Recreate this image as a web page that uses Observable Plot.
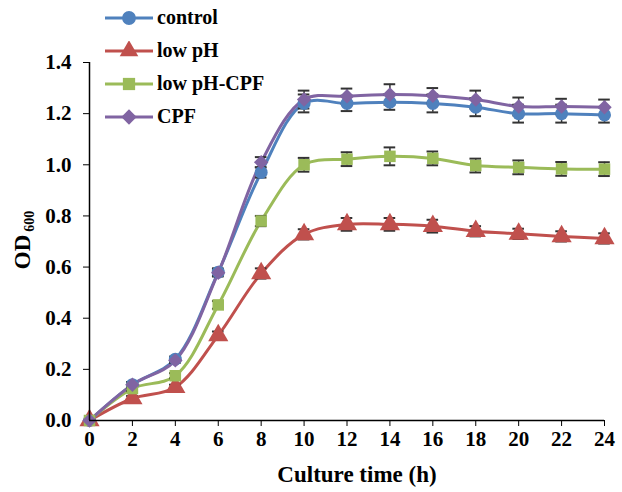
<!DOCTYPE html>
<html>
<head>
<meta charset="utf-8">
<script src="https://cdn.jsdelivr.net/npm/d3@7"></script>
<script src="https://cdn.jsdelivr.net/npm/@observablehq/plot@0.6"></script>
<style>
  html, body { margin: 0; padding: 0; background: #fff; }
  #wrap { position: relative; width: 622px; height: 492px; }
  #legend { position: absolute; left: 104px; top: 1px; font-family: "Liberation Serif", serif; font-weight: bold; font-size: 20px; }
  #legend .row { display: flex; align-items: center; height: 33px; }
  #legend svg { margin-right: 3px; }
</style>
</head>
<body>
<div id="wrap"><div id="legend"></div></div>
<script>
const hours = [0, 2, 4, 6, 8, 10, 12, 14, 16, 18, 20, 22, 24];
const seriesNames = ["control", "low pH", "low pH-CPF", "CPF"];
const control     = [0, 0.14, 0.24, 0.58, 0.97, 1.24, 1.24, 1.245, 1.24, 1.225, 1.2, 1.2, 1.195];
const controlErr  = [0, 0.01, 0.01, 0.015, 0.02, 0.035, 0.03, 0.03, 0.035, 0.035, 0.035, 0.035, 0.03];
const lowPH       = [0, 0.086, 0.13, 0.333, 0.575, 0.728, 0.767, 0.767, 0.76, 0.74, 0.73, 0.72, 0.712];
const lowPHErr    = [0, 0.01, 0.01, 0.015, 0.02, 0.02, 0.025, 0.025, 0.025, 0.02, 0.02, 0.02, 0.02];
const lowPHCPF    = [0, 0.125, 0.175, 0.452, 0.78, 1.0, 1.022, 1.033, 1.025, 0.997, 0.99, 0.984, 0.983];
const lowPHCPFErr = [0, 0.01, 0.01, 0.015, 0.02, 0.027, 0.027, 0.035, 0.027, 0.027, 0.027, 0.027, 0.027];
const cpf         = [0, 0.14, 0.235, 0.578, 1.01, 1.255, 1.268, 1.275, 1.27, 1.255, 1.228, 1.228, 1.225];
const cpfErr      = [0, 0.01, 0.01, 0.015, 0.02, 0.035, 0.03, 0.04, 0.03, 0.035, 0.035, 0.03, 0.03];
const yTicks = [0, 0.2, 0.4, 0.6, 0.8, 1.0, 1.2, 1.4];

const colors  = ["#4F81BD", "#C0504D", "#9BBB59", "#8064A2"];
const symbols = ["circle", "triangle", "square", "diamond2"];
const values = [control, lowPH, lowPHCPF, cpf];
const errs = [controlErr, lowPHErr, lowPHCPFErr, cpfErr];

const data = [];
seriesNames.forEach((s, i) => hours.forEach((h, j) => data.push({series: s, x: h, y: values[i][j], e: errs[i][j]})));

const marks = [];
seriesNames.forEach((s, i) => {
  const d = data.filter(r => r.series === s);
  marks.push(Plot.line(d, {x: "x", y: "y", stroke: colors[i], strokeWidth: 3, curve: "catmull-rom"}));
});
seriesNames.forEach((s, i) => {
  const d = data.filter(r => r.series === s && r.e > 0);
  marks.push(Plot.ruleX(d, {x: "x", y1: r => r.y - r.e, y2: r => r.y + r.e, stroke: "#333", strokeWidth: 1.5}));
  marks.push(Plot.ruleY(d, {y: r => r.y + r.e, x1: r => r.x - 0.27, x2: r => r.x + 0.27, stroke: "#333", strokeWidth: 2}));
  marks.push(Plot.ruleY(d, {y: r => r.y - r.e, x1: r => r.x - 0.27, x2: r => r.x + 0.27, stroke: "#333", strokeWidth: 2}));
});
seriesNames.forEach((s, i) => {
  const d = data.filter(r => r.series === s);
  marks.push(Plot.dot(d, {x: "x", y: "y", symbol: () => symbols[i], fill: colors[i], stroke: "none", r: i === 1 ? 7.5 : 6.5}));
});

const chart = Plot.plot({
  width: 622,
  height: 492,
  marginLeft: 89,
  marginRight: 18,
  marginTop: 62,
  marginBottom: 72,
  style: {fontFamily: "'Liberation Serif', serif", fontSize: "21px", fontWeight: "bold", color: "#000", background: "#fff"},
  symbol: {type: "identity"},
  x: {domain: [0, 24], ticks: hours, tickSize: 6, tickPadding: 5, label: null},
  y: {domain: [0, 1.4], ticks: yTicks, tickFormat: d3.format(".1f"), tickSize: 6, tickPadding: 12, label: null},
  marks: [
    ...marks,
    Plot.ruleX([0], {stroke: "#000", strokeWidth: 1.5}),
    Plot.ruleY([0], {stroke: "#000", strokeWidth: 1.5}),
  ]
});
document.getElementById("wrap").prepend(chart);

const svg = d3.select(chart);
svg.append("text")
  .attr("x", 357).attr("y", 482)
  .attr("text-anchor", "middle")
  .style("font-family", "'Liberation Serif', serif").style("font-size", "23px").style("font-weight", "bold")
  .text("Culture time (h)");
const yt = svg.append("text")
  .attr("transform", "translate(30,240) rotate(-90)")
  .attr("text-anchor", "middle")
  .style("font-family", "'Liberation Serif', serif").style("font-size", "23px").style("font-weight", "bold");
yt.append("tspan").text("OD");
yt.append("tspan").attr("dx", 3).attr("dy", 4).style("font-size", "14px").text("600");

// legend
const leg = d3.select("#legend");
seriesNames.forEach((s, i) => {
  const row = leg.append("div").attr("class", "row");
  const sv = row.append("svg").attr("width", 50).attr("height", 20);
  sv.append("line").attr("x1", 1).attr("x2", 49).attr("y1", 10).attr("y2", 10).attr("stroke", colors[i]).attr("stroke-width", 3);
  const sym = {circle: d3.symbolCircle, triangle: d3.symbolTriangle, square: d3.symbolSquare, diamond2: d3.symbolDiamond2}[symbols[i]];
  sv.append("path").attr("transform", "translate(25,10)").attr("d", d3.symbol(sym, 150)()).attr("fill", colors[i]);
  row.append("span").text(s);
});
</script>
</body>
</html>
